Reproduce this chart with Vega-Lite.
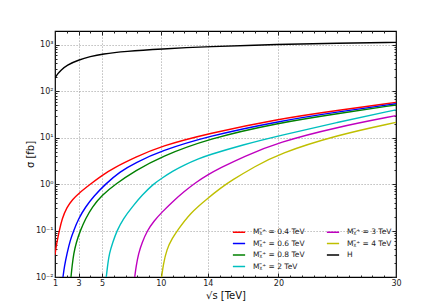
{
  "$schema": "https://vega.github.io/schema/vega-lite/v6.json",
  "autosize": {"type": "none"},
  "width": 341,
  "height": 246,
  "padding": {"left": 55, "top": 31, "right": 45, "bottom": 31},
  "background": "white",
  "config": {
    "font": "DejaVu Sans",
    "view": {"stroke": "black", "strokeWidth": 1.2},
    "axis": {"domain": false, "labelFont": "DejaVu Sans", "titleFont": "DejaVu Sans", "labelColor": "#222", "titleColor": "#111", "tickColor": "#222", "labelFontSize": 8, "titleFontSize": 10, "titleFontWeight": "normal"}
  },
  "datasets": {
    "curves": [
      {"s": 1, "sigma": 0.03, "series": "M04"},
      {"s": 1.1, "sigma": 0.045, "series": "M04"},
      {"s": 1.2, "sigma": 0.062, "series": "M04"},
      {"s": 1.37, "sigma": 0.1, "series": "M04"},
      {"s": 1.6, "sigma": 0.18, "series": "M04"},
      {"s": 2, "sigma": 0.32, "series": "M04"},
      {"s": 2.5, "sigma": 0.47, "series": "M04"},
      {"s": 3, "sigma": 0.63, "series": "M04"},
      {"s": 4, "sigma": 1.0, "series": "M04"},
      {"s": 5, "sigma": 1.55, "series": "M04"},
      {"s": 6, "sigma": 2.24, "series": "M04"},
      {"s": 7.83, "sigma": 3.8, "series": "M04"},
      {"s": 10, "sigma": 6.6, "series": "M04"},
      {"s": 14, "sigma": 12.3, "series": "M04"},
      {"s": 20, "sigma": 25.5, "series": "M04"},
      {"s": 25, "sigma": 39, "series": "M04"},
      {"s": 30, "sigma": 58, "series": "M04"},
      {"s": 1.68, "sigma": 0.01, "series": "M06"},
      {"s": 1.8, "sigma": 0.017, "series": "M06"},
      {"s": 2.02, "sigma": 0.032, "series": "M06"},
      {"s": 2.3, "sigma": 0.063, "series": "M06"},
      {"s": 2.59, "sigma": 0.1, "series": "M06"},
      {"s": 3, "sigma": 0.18, "series": "M06"},
      {"s": 3.58, "sigma": 0.32, "series": "M06"},
      {"s": 4.3, "sigma": 0.55, "series": "M06"},
      {"s": 5.28, "sigma": 1.0, "series": "M06"},
      {"s": 6.5, "sigma": 1.85, "series": "M06"},
      {"s": 7.83, "sigma": 2.9, "series": "M06"},
      {"s": 10, "sigma": 5.2, "series": "M06"},
      {"s": 14, "sigma": 10.8, "series": "M06"},
      {"s": 20, "sigma": 22.7, "series": "M06"},
      {"s": 25, "sigma": 36, "series": "M06"},
      {"s": 30, "sigma": 54, "series": "M06"},
      {"s": 2.36, "sigma": 0.01, "series": "M08"},
      {"s": 2.45, "sigma": 0.017, "series": "M08"},
      {"s": 2.59, "sigma": 0.032, "series": "M08"},
      {"s": 2.8, "sigma": 0.055, "series": "M08"},
      {"s": 3.15, "sigma": 0.1, "series": "M08"},
      {"s": 3.6, "sigma": 0.18, "series": "M08"},
      {"s": 4.15, "sigma": 0.32, "series": "M08"},
      {"s": 5, "sigma": 0.58, "series": "M08"},
      {"s": 6.13, "sigma": 1.0, "series": "M08"},
      {"s": 7.83, "sigma": 1.95, "series": "M08"},
      {"s": 10, "sigma": 3.9, "series": "M08"},
      {"s": 14, "sigma": 9.5, "series": "M08"},
      {"s": 20, "sigma": 21, "series": "M08"},
      {"s": 25, "sigma": 33, "series": "M08"},
      {"s": 30, "sigma": 51, "series": "M08"},
      {"s": 5.36, "sigma": 0.01, "series": "M2"},
      {"s": 5.5, "sigma": 0.02, "series": "M2"},
      {"s": 5.62, "sigma": 0.032, "series": "M2"},
      {"s": 5.9, "sigma": 0.055, "series": "M2"},
      {"s": 6.27, "sigma": 0.1, "series": "M2"},
      {"s": 6.8, "sigma": 0.18, "series": "M2"},
      {"s": 7.55, "sigma": 0.32, "series": "M2"},
      {"s": 8.4, "sigma": 0.58, "series": "M2"},
      {"s": 9.35, "sigma": 1.0, "series": "M2"},
      {"s": 10, "sigma": 1.3, "series": "M2"},
      {"s": 11, "sigma": 1.9, "series": "M2"},
      {"s": 12, "sigma": 2.6, "series": "M2"},
      {"s": 13.3, "sigma": 3.6, "series": "M2"},
      {"s": 14, "sigma": 4.2, "series": "M2"},
      {"s": 17, "sigma": 7.1, "series": "M2"},
      {"s": 20, "sigma": 11, "series": "M2"},
      {"s": 25, "sigma": 21.5, "series": "M2"},
      {"s": 30, "sigma": 40, "series": "M2"},
      {"s": 7.78, "sigma": 0.01, "series": "M3"},
      {"s": 7.9, "sigma": 0.017, "series": "M3"},
      {"s": 8.1, "sigma": 0.032, "series": "M3"},
      {"s": 8.4, "sigma": 0.055, "series": "M3"},
      {"s": 8.85, "sigma": 0.1, "series": "M3"},
      {"s": 9.4, "sigma": 0.16, "series": "M3"},
      {"s": 10.1, "sigma": 0.25, "series": "M3"},
      {"s": 11, "sigma": 0.42, "series": "M3"},
      {"s": 12, "sigma": 0.7, "series": "M3"},
      {"s": 13, "sigma": 1.1, "series": "M3"},
      {"s": 14, "sigma": 1.6, "series": "M3"},
      {"s": 15, "sigma": 2.2, "series": "M3"},
      {"s": 17, "sigma": 3.9, "series": "M3"},
      {"s": 20, "sigma": 8.0, "series": "M3"},
      {"s": 25, "sigma": 17, "series": "M3"},
      {"s": 30, "sigma": 30, "series": "M3"},
      {"s": 10.07, "sigma": 0.01, "series": "M4"},
      {"s": 10.2, "sigma": 0.018, "series": "M4"},
      {"s": 10.5, "sigma": 0.04, "series": "M4"},
      {"s": 11, "sigma": 0.07, "series": "M4"},
      {"s": 11.4, "sigma": 0.1, "series": "M4"},
      {"s": 12.5, "sigma": 0.24, "series": "M4"},
      {"s": 14, "sigma": 0.5, "series": "M4"},
      {"s": 15.1, "sigma": 0.83, "series": "M4"},
      {"s": 16, "sigma": 1.2, "series": "M4"},
      {"s": 18, "sigma": 2.4, "series": "M4"},
      {"s": 20, "sigma": 4.5, "series": "M4"},
      {"s": 25, "sigma": 11.5, "series": "M4"},
      {"s": 30, "sigma": 21.5, "series": "M4"},
      {"s": 1, "sigma": 195, "series": "H"},
      {"s": 1.25, "sigma": 245, "series": "H"},
      {"s": 1.5, "sigma": 285, "series": "H"},
      {"s": 2, "sigma": 370, "series": "H"},
      {"s": 3, "sigma": 475, "series": "H"},
      {"s": 4, "sigma": 565, "series": "H"},
      {"s": 5, "sigma": 640, "series": "H"},
      {"s": 7, "sigma": 730, "series": "H"},
      {"s": 10, "sigma": 820, "series": "H"},
      {"s": 14, "sigma": 920, "series": "H"},
      {"s": 20, "sigma": 1030, "series": "H"},
      {"s": 25, "sigma": 1090, "series": "H"},
      {"s": 30, "sigma": 1140, "series": "H"}
    ]
  },
  "data": {"name": "curves"},
  "resolve": {"axis": {"x": "independent", "y": "independent"}},
  "layer": [
    {
      "mark": {"type": "line", "interpolate": "basis", "strokeWidth": 1.4, "clip": true},
      "encoding": {
        "x": {
          "field": "s", "type": "quantitative",
          "scale": {"domain": [1, 30], "nice": false, "zero": false},
          "axis": {
            "orient": "bottom",
            "title": "√s [TeV]",
            "values": [1,2,3,4,5,6,7,8,9,10,11,12,13,14,15,16,17,18,19,20,21,22,23,24,25,26,27,28,29,30],
            "labelExpr": "indexof([1,3,5,10,14,20,30], datum.value) >= 0 ? datum.label : ''",
            "tickSize": {"condition": {"test": "indexof([1,3,5,10,14,20,30], datum.value) >= 0", "value": -4}, "value": -2},
            "grid": true,
            "gridColor": "#888",
            "gridDash": [1.2, 1.8],
            "gridWidth": 0.7,
            "gridOpacity": {"condition": {"test": "indexof([3,5,10,14,20], datum.value) >= 0", "value": 1}, "value": 0},
            "labelPadding": 6,
            "labelFlush": false,
            "titlePadding": 3
          }
        },
        "y": {
          "field": "sigma", "type": "quantitative",
          "scale": {"type": "log", "domain": [0.01, 2000], "nice": false},
          "axis": {
            "orient": "left",
            "title": "σ [fb]",
            "values": [0.01,0.02,0.03,0.04,0.05,0.06,0.07,0.08,0.09,0.1,0.2,0.3,0.4,0.5,0.6,0.7,0.8,0.9,1,2,3,4,5,6,7,8,9,10,20,30,40,50,60,70,80,90,100,200,300,400,500,600,700,800,900,1000],
            "labelExpr": "datum.value == 1000 ? '10³' : datum.value == 100 ? '10²' : datum.value == 10 ? '10¹' : datum.value == 1 ? '10⁰' : datum.value == 0.1 ? '10⁻¹' : datum.value == 0.01 ? '10⁻²' : ''",
            "tickSize": {"condition": {"test": "indexof([0.01,0.1,1,10,100,1000], datum.value) >= 0", "value": -4}, "value": -2},
            "grid": true,
            "gridColor": "#888",
            "gridDash": [1.2, 1.8],
            "gridWidth": 0.7,
            "gridOpacity": {"condition": {"test": "indexof([0.1,1,10,100,1000], datum.value) >= 0", "value": 1}, "value": 0},
            "labelPadding": 6,
            "labelFlush": false,
            "titlePadding": 0
          }
        },
        "color": {
          "field": "series", "type": "nominal",
          "scale": {
            "domain": ["M04", "M06", "M08", "M2", "M3", "M4", "H"],
            "range": ["#ff0000", "#0000ff", "#008000", "#00bfbf", "#bf00bf", "#bfbf00", "#000000"]
          },
          "legend": {
            "orient": "none",
            "legendX": 177,
            "legendY": 194,
            "columns": 2,
            "title": null,
            "symbolType": "stroke",
            "symbolSize": 150,
            "symbolStrokeWidth": 1.5,
            "labelFontSize": 7.5,
            "labelFont": "DejaVu Sans",
            "labelColor": "#222",
            "labelOffset": 7,
            "rowPadding": 0.5,
            "columnPadding": 18,
            "labelExpr": "datum.value == 'H' ? 'H' : datum.value == 'M04' ? 'Mᵪ̃⁺ = 0.4 TeV' : datum.value == 'M06' ? 'Mᵪ̃⁺ = 0.6 TeV' : datum.value == 'M08' ? 'Mᵪ̃⁺ = 0.8 TeV' : datum.value == 'M2' ? 'Mᵪ̃⁺ = 2 TeV' : datum.value == 'M3' ? 'Mᵪ̃⁺ = 3 TeV' : 'Mᵪ̃⁺ = 4 TeV'"
          }
        }
      }
    },
    {
      "mark": {"type": "line", "strokeOpacity": 0, "clip": true},
      "encoding": {
        "x": {
          "field": "s", "type": "quantitative",
          "axis": {
            "orient": "top",
            "title": null,
            "labels": false,
            "grid": false,
            "values": [1,2,3,4,5,6,7,8,9,10,11,12,13,14,15,16,17,18,19,20,21,22,23,24,25,26,27,28,29,30],
            "tickSize": {"condition": {"test": "indexof([1,3,5,10,14,20,30], datum.value) >= 0", "value": -4}, "value": -2}
          }
        },
        "y": {
          "field": "sigma", "type": "quantitative",
          "axis": {
            "orient": "right",
            "title": null,
            "labels": false,
            "grid": false,
            "values": [0.01,0.02,0.03,0.04,0.05,0.06,0.07,0.08,0.09,0.1,0.2,0.3,0.4,0.5,0.6,0.7,0.8,0.9,1,2,3,4,5,6,7,8,9,10,20,30,40,50,60,70,80,90,100,200,300,400,500,600,700,800,900,1000],
            "tickSize": {"condition": {"test": "indexof([0.01,0.1,1,10,100,1000], datum.value) >= 0", "value": -4}, "value": -2}
          }
        },
        "detail": {"field": "series", "type": "nominal"}
      }
    }
  ]
}
